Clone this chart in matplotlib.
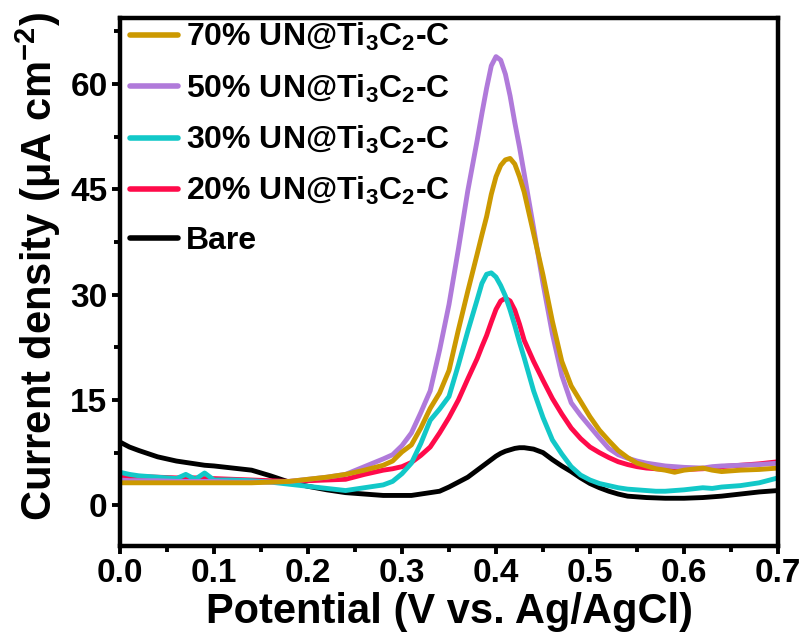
import matplotlib
matplotlib.use("Agg")
import matplotlib.pyplot as plt
from matplotlib.ticker import MultipleLocator, FormatStrFormatter

plt.rcParams['font.family'] = ['Liberation Sans', 'DejaVu Sans']
plt.rcParams['font.weight'] = 'bold'
plt.rcParams['mathtext.fontset'] = 'custom'
plt.rcParams['mathtext.rm'] = 'Liberation Sans:bold'
plt.rcParams['mathtext.it'] = 'Liberation Sans:bold'
plt.rcParams['mathtext.bf'] = 'Liberation Sans:bold'
plt.rcParams['mathtext.default'] = 'rm'

potential = [0.00, 0.01, 0.02, 0.04, 0.06, 0.07, 0.08, 0.09, 0.10, 0.12, 0.14, 0.16, 0.18,
             0.20, 0.22, 0.24, 0.26, 0.28, 0.29, 0.30, 0.31, 0.32, 0.33, 0.34, 0.35,
             0.36, 0.37, 0.38, 0.385, 0.39, 0.395, 0.40, 0.405, 0.41, 0.415, 0.42, 0.425,
             0.43, 0.44, 0.45, 0.46, 0.47, 0.48, 0.49, 0.50, 0.51, 0.52, 0.53, 0.54,
             0.55, 0.56, 0.57, 0.58, 0.59, 0.60, 0.62, 0.63, 0.64, 0.66, 0.68, 0.70]

bare = [9.0, 8.3, 7.8, 6.9, 6.3, 6.1, 5.9, 5.7, 5.6, 5.3, 5.0, 4.2, 3.3,
        2.7, 2.2, 1.8, 1.6, 1.4, 1.4, 1.4, 1.4, 1.6, 1.8, 2.0, 2.6,
        3.3, 4.0, 5.0, 5.5, 6.0, 6.5, 7.0, 7.4, 7.7, 7.9, 8.1, 8.2,
        8.2, 8.0, 7.5, 6.5, 5.6, 4.8, 3.9, 3.1, 2.5, 2.0, 1.6, 1.3,
        1.2, 1.1, 1.05, 1.0, 1.0, 1.0, 1.1, 1.2, 1.3, 1.6, 1.9, 2.1]

un20 = [4.2, 4.1, 4.1, 4.0, 3.9, 3.9, 3.9, 3.8, 3.8, 3.7, 3.6, 3.5, 3.4,
        3.5, 3.6, 3.7, 4.4, 5.0, 5.2, 5.5, 6.1, 7.1, 8.3, 10.3, 12.5,
        15.0, 18.0, 20.9, 22.6, 24.2, 26.1, 27.9, 29.1, 29.5, 29.1, 27.8, 25.8,
        23.5, 20.5, 17.8, 15.2, 13.0, 11.0, 9.5, 8.3, 7.5, 6.8, 6.2, 5.8,
        5.5, 5.3, 5.2, 5.1, 5.1, 5.1, 5.2, 5.3, 5.5, 5.7, 5.9, 6.2]

un30 = [4.7, 4.4, 4.2, 4.0, 3.8, 4.4, 3.7, 4.6, 3.6, 3.6, 3.5, 3.3, 3.0,
        2.7, 2.4, 2.1, 2.5, 2.9, 3.4, 4.5, 6.0, 8.8, 12.1, 13.7, 15.5,
        20.0, 24.8, 29.3, 31.6, 32.9, 33.1, 32.5, 31.3, 29.8, 27.8, 25.6, 23.2,
        21.0, 16.3, 12.5, 9.3, 7.3, 5.5, 4.3, 3.6, 3.1, 2.8, 2.5, 2.3,
        2.2, 2.1, 2.0, 2.0, 2.1, 2.2, 2.5, 2.4, 2.6, 2.8, 3.2, 3.9]

un50 = [3.6, 3.5, 3.5, 3.5, 3.4, 3.4, 3.4, 3.4, 3.4, 3.3, 3.3, 3.3, 3.4,
        3.7, 4.0, 4.4, 5.5, 6.6, 7.2, 8.5, 10.3, 13.2, 16.3, 22.1, 28.6,
        36.5, 44.8, 52.0, 55.8, 59.4, 62.6, 63.9, 63.4, 61.4, 58.3, 54.5, 51.0,
        47.2, 39.5, 31.6, 24.4, 18.5, 14.6, 12.8, 11.2, 9.6, 8.1, 7.2, 6.7,
        6.3, 6.0, 5.8, 5.6, 5.5, 5.4, 5.3, 5.5, 5.6, 5.7, 5.8, 6.0]

un70 = [3.2, 3.2, 3.2, 3.2, 3.2, 3.2, 3.2, 3.2, 3.2, 3.2, 3.2, 3.3, 3.4,
        3.7, 4.0, 4.4, 5.0, 5.7, 6.3, 7.6, 8.6, 11.0, 13.8, 16.0, 19.2,
        25.0, 30.5, 35.8, 38.5, 41.1, 44.3, 46.8, 48.4, 49.2, 49.4, 48.6, 46.8,
        44.6, 38.7, 32.8, 26.2, 20.5, 17.0, 14.8, 12.6, 10.7, 9.2, 7.8, 6.8,
        6.0, 5.6, 5.2, 5.0, 4.7, 5.0, 5.3, 5.0, 4.8, 5.0, 5.1, 5.3]

series = [
    ("Bare", bare, "#000000"),
    ("20% UN@Ti$_3$C$_2$-C", un20, "#FF0A4A"),
    ("30% UN@Ti$_3$C$_2$-C", un30, "#12C8C8"),
    ("50% UN@Ti$_3$C$_2$-C", un50, "#B07ADA"),
    ("70% UN@Ti$_3$C$_2$-C", un70, "#CC9900"),
]

fig = plt.figure(figsize=(8.07, 6.39), dpi=100)
ax = fig.add_axes([120/807, 93/639, 658/807, 528/639])

handles = []
for label, vals, color in series:
    h, = ax.plot(potential, vals, color=color, lw=3.5, label=label,
                 solid_joinstyle='round', solid_capstyle='round')
    handles.append(h)

ax.set_xlim(0, 0.7)
ax.set_ylim(-5.8, 69.4)
ax.xaxis.set_major_locator(MultipleLocator(0.1))
ax.xaxis.set_minor_locator(MultipleLocator(0.05))
ax.yaxis.set_major_locator(MultipleLocator(15))
ax.yaxis.set_minor_locator(MultipleLocator(7.5))
ax.xaxis.set_major_formatter(FormatStrFormatter('%.1f'))

for s in ax.spines.values():
    s.set_linewidth(3.2)
ax.tick_params(which='major', direction='out', length=6, width=2.8, labelsize=24, pad=3)
ax.tick_params(which='minor', direction='out', length=4, width=2.8)
ax.tick_params(top=False, right=False, which='both')

ax.set_xlabel("Potential (V vs. Ag/AgCl)", fontsize=30, fontweight='bold', labelpad=2)
ax.set_ylabel("Current density (μA cm$^{-2}$)", fontsize=30, fontweight='bold')
ax.yaxis.set_label_coords(-0.087, 0.53)

leg = ax.legend(handles[::-1], [h.get_label() for h in handles[::-1]],
                loc='upper left', frameon=False, fontsize=23,
                handlelength=1.5, handletextpad=0.27, labelspacing=0.6,
                borderaxespad=0.0, borderpad=0.3, bbox_to_anchor=(0.0, 1.012))
for line in leg.get_lines():
    line.set_linewidth(4.0)

fig.savefig("out.png", dpi=100)
